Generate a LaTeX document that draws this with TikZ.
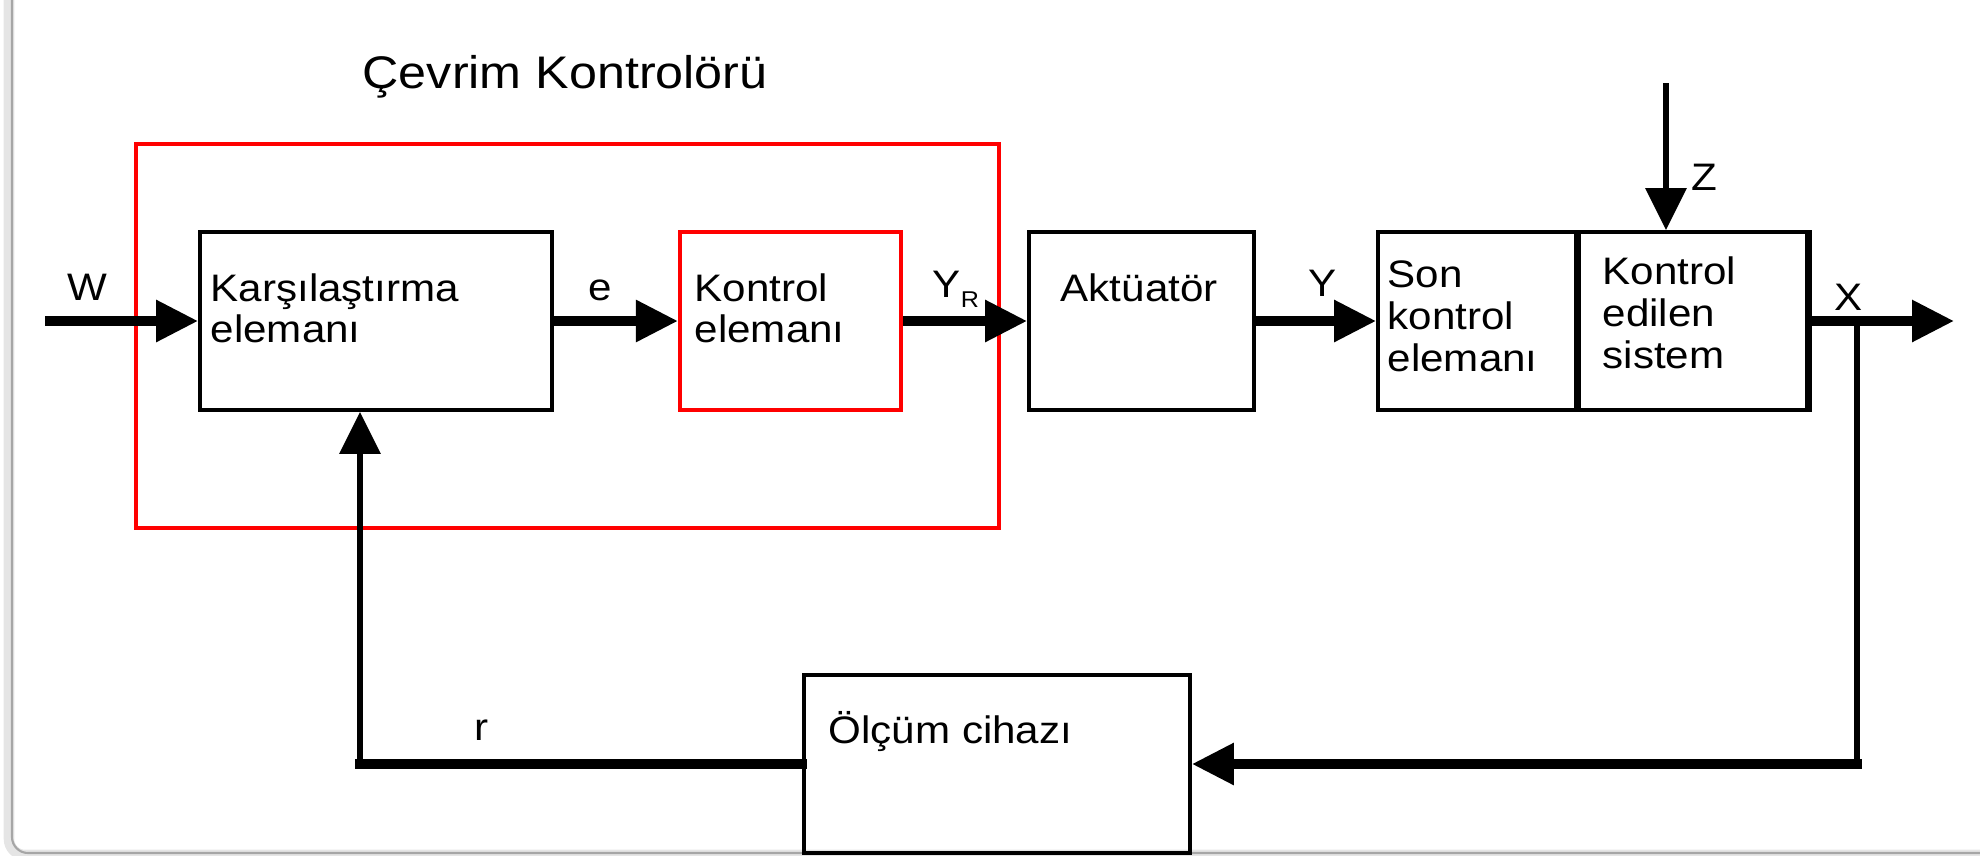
\documentclass[tikz,border=0pt]{standalone}
\usepackage{fontspec}
\setmainfont{Liberation Sans}[FakeStretch=1.1]
\usetikzlibrary{arrows.meta, positioning, calc}
\tikzset{
    blockbox/.style={draw=black, line width=1.1pt, minimum height=17.8mm, inner sep=0pt},
    redbox/.style={draw=red, line width=1.2pt, minimum height=17.8mm, inner sep=0pt},
    boxtext/.style={anchor=north west, inner sep=0pt, align=left, font=\fontsize{10.9pt}{11.6pt}\selectfont},
    linetext/.style={anchor=base west, inner sep=0pt, font=\fontsize{10.9pt}{11.6pt}\selectfont},
    sigtext/.style={anchor=base, inner sep=0pt, font=\fontsize{10.9pt}{11.6pt}\selectfont},
    sigline/.style={line width=2.6pt},
    fbline/.style={line width=1.8pt},
}

\begin{document}
\begin{tikzpicture}[x=0.1mm, y=-0.1mm, >={Triangle[length=4.2mm, width=4mm]}]
\clip (0,0) rectangle (1980,856);
% card edge
\draw[black!10, line width=3pt, rounded corners=1.6mm] (9,-40) -- (9,855) -- (1982,855);
\draw[black!35, line width=0.6pt, rounded corners=1.6mm] (12,-40) -- (12,853) -- (1982,853);

% controller frame
\node[draw=red, line width=1.2pt, minimum width=86.3mm, minimum height=38.4mm, inner sep=0pt] (cevrim) at (567.5,336) {};
\node[anchor=base west, inner sep=0pt, font=\fontsize{13pt}{13pt}\selectfont] (title) at (362,88) {Çevrim Kontrolörü};

% blocks
\node[blockbox, minimum width=35.2mm] (karsi) at (376,321) {};
\node[redbox, minimum width=22.1mm] (kontrol) at (790.5,321) {};
\node[blockbox, minimum width=22.5mm] (aktuator) at (1141.5,321) {};
\node[blockbox, minimum width=20.1mm] (son) at (1478.5,321) {};
\node[blockbox, minimum width=22.8mm] (sistem) at (1693,321) {};
\draw[line width=1.8pt] (sistem.north west) -- (sistem.south west);
\draw[line width=1.8pt] (sistem.north east) -- (sistem.south east);
\node[blockbox, minimum width=38.6mm] (olcum) at (997,764) {};

% block texts
\node[boxtext] at (210,273) {Karşılaştırma\\elemanı};
\node[boxtext] at (694,273) {Kontrol\\elemanı};
\node[linetext] at (1060,301) {Aktüatör};
\node[boxtext, font=\fontsize{10.9pt}{11.9pt}\selectfont] at (1387,260) {Son\\kontrol\\elemanı};
\node[boxtext, font=\fontsize{10.9pt}{11.9pt}\selectfont] at (1602,256) {Kontrol\\edilen\\sistem};
\node[linetext] at (828,743) {Ölçüm cihazı};

% forward path
\coordinate (win) at (45,321);
\coordinate (xout) at (1954,321);
\coordinate (branch) at (1857,321);
\coordinate (zin) at (1666,83);
\draw[sigline,->] (win) -- (karsi);
\draw[sigline,->] (karsi) -- (kontrol);
\draw[sigline,->] (kontrol) -- (aktuator);
\draw[sigline,->] (aktuator) -- (son);
\draw[sigline,->] (sistem.east) -- (xout);
\draw[fbline,->] (zin) -- (zin |- sistem.north);

% feedback path
\coordinate (fbright) at (branch |- olcum);
\coordinate (fbleft) at (360,764);
\draw[fbline, line cap=rect] (branch) -- (fbright);
\draw[sigline,->, line cap=rect] (fbright) -- (olcum);
\draw[sigline, line cap=rect] (olcum) -- (fbleft);
\draw[fbline,->] (fbleft) -- (fbleft |- karsi.south);

% signal labels
\node[sigtext] (wlab) at (87,300) {W};
\node[sigtext] (elab) at (600,300) {e};
\node[linetext] (yrlab) at (932,297) {Y\raisebox{-1mm}{\fontsize{6.5pt}{6.5pt}\selectfont R}};
\node[sigtext] (ylab) at (1323,296) {Y};
\node[sigtext] (xlab) at (1849,310) {X};
\node[sigtext] (zlab) at (1704,190) {Z};
\node[sigtext] (rlab) at (482,740) {r};
\end{tikzpicture}
\end{document}
